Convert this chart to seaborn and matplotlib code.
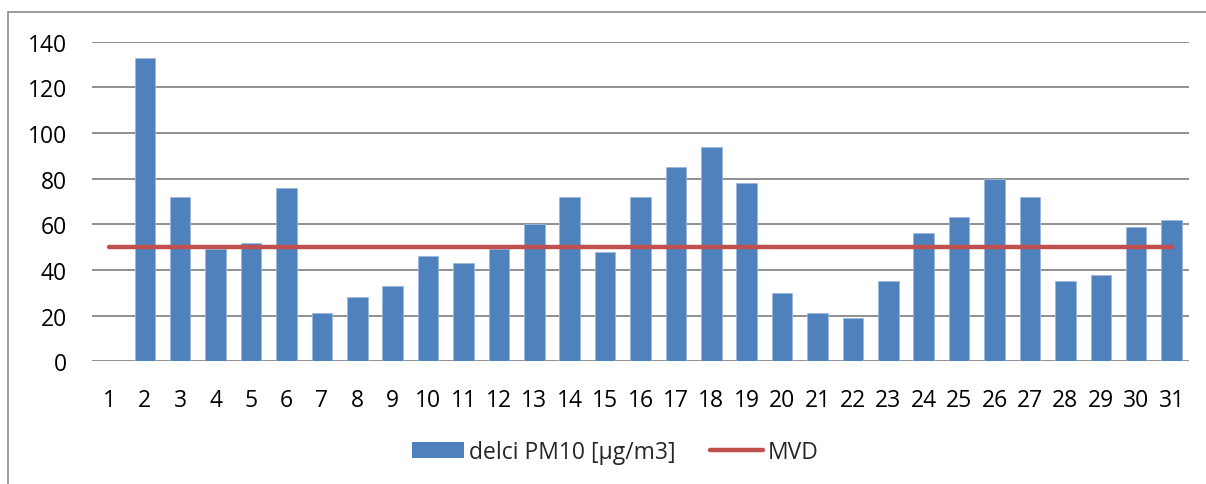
import numpy as np
import pandas as pd
import matplotlib
matplotlib.use("Agg")
import matplotlib.pyplot as plt
from matplotlib.patches import Patch, Rectangle
from matplotlib.lines import Line2D
import seaborn as sns

days = [str(d) for d in range(1, 32)]
pm10 = [np.nan, 133, 72, 49, 52, 76, 21, 28, 33, 46, 43, 49, 60, 72, 48, 72,
        85, 94, 78, 30, 21, 19, 35, 56, 63, 80, 72, 35, 38, 59, 62]
mvd = [50] * 31
yticks = [0, 20, 40, 60, 80, 100, 120, 140]
bar_label = "delci PM10 [µg/m3]"
line_label = "MVD"

sns.set_theme(style="white")
plt.rcParams['font.family'] = ['Open Sans', 'DejaVu Sans']

BLUE = "#4F81BD"
RED = "#C0504D"
GRID = "#878787"
FS = 16.5

fig = plt.figure(figsize=(12.06, 4.85), dpi=100)
ax = fig.add_axes([91.7/1206, 1-362.3/485, (1189.3-91.7)/1206, (362.3-42.7)/485])

df = pd.DataFrame({"day": days, "pm10": pm10, "mvd": mvd})
sns.barplot(data=df, x="day", y="pm10", order=days, color=BLUE, saturation=1,
            width=0.58, ax=ax, zorder=2, edgecolor="#9DB9DC", linewidth=0.6)
ax.plot(np.arange(len(days)), df["mvd"], color=RED, lw=3.2, solid_capstyle="round", zorder=3)

ax.set_ylim(0, 140)
ax.set_xlim(-0.5, len(days) - 0.5)
ax.set_yticks(yticks)
ax.set_yticklabels([str(t) for t in yticks])
ax.yaxis.grid(True, color=GRID, lw=1.3, zorder=0)
ax.set_axisbelow(True)
for s in ax.spines.values():
    s.set_visible(False)
ax.tick_params(axis="both", length=0, labelsize=FS, colors="black")
ax.tick_params(axis="y", pad=18)
ax.tick_params(axis="x", pad=19)
ax.set_xlabel("")
ax.set_ylabel("")

handles = [Patch(facecolor=BLUE, edgecolor="none"),
           Line2D([0], [0], color=RED, lw=3.2, solid_capstyle="round")]
fig.legend(handles, [bar_label, line_label], loc="center",
           bbox_to_anchor=(615/1206, 1-453/485), ncol=2, frameon=False,
           fontsize=FS, handlelength=2.3, handletextpad=0.2, columnspacing=1.5)

fig.patches.append(Rectangle((8/1206, -0.1), 1.2, 1 - 13/485 + 0.1, transform=fig.transFigure,
                             fill=False, edgecolor="#8C8C8C", lw=1.2, zorder=0))

fig.savefig("out.png", dpi=100)
